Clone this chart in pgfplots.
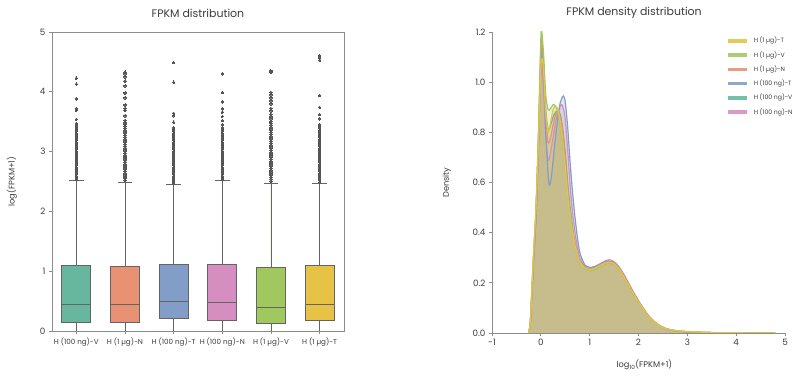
\documentclass[border=0pt]{standalone}
\usepackage{pgfplots}
\pgfplotsset{compat=1.18}
\usepackage{pgfplotstable}
\usepgfplotslibrary{statistics}
\usepackage{fontspec}
\setmainfont{Poppins}

\definecolor{cteal}{RGB}{102,183,157}
\definecolor{corange}{RGB}{232,145,115}
\definecolor{cblue}{RGB}{130,158,200}
\definecolor{cpink}{RGB}{214,142,192}
\definecolor{cgreen}{RGB}{160,200,95}
\definecolor{cyellow}{RGB}{230,195,70}
\definecolor{boxline}{RGB}{100,100,100}
\definecolor{outl}{RGB}{85,85,85}
\definecolor{axgray}{RGB}{140,140,140}
\definecolor{txt}{RGB}{60,60,60}

\pgfplotstableread{
x y
-0.25 0
-0.22 0.03
-0.2 0.09
-0.15 0.28
-0.1 0.46
-0.05 0.72
0 1.04
0.02 1.06
0.06 0.96
0.1 0.79
0.15 0.69
0.2 0.72
0.25 0.78
0.3 0.84
0.35 0.88
0.4 0.905
0.43 0.91
0.47 0.89
0.5 0.85
0.55 0.73
0.6 0.59
0.65 0.48
0.7 0.40
0.75 0.34
0.8 0.30
0.9 0.266
1.0 0.257
1.1 0.263
1.2 0.274
1.3 0.286
1.4 0.292
1.5 0.284
1.6 0.264
1.7 0.234
1.8 0.198
1.9 0.162
2.0 0.129
2.1 0.098
2.2 0.071
2.3 0.050
2.4 0.034
2.5 0.023
2.6 0.015
2.8 0.008
3.0 0.005
3.2 0.003
3.5 0.0015
4.0 0.0006
4.5 0.0002
4.8 0
}\tpink

\pgfplotstableread{
x y
-0.25 0
-0.22 0.03
-0.2 0.1
-0.15 0.3
-0.1 0.48
-0.05 0.76
0 1.11
0.02 1.13
0.06 1.04
0.1 0.89
0.15 0.81
0.2 0.83
0.25 0.86
0.3 0.88
0.35 0.885
0.4 0.87
0.45 0.81
0.5 0.72
0.55 0.60
0.6 0.50
0.65 0.42
0.7 0.36
0.75 0.315
0.8 0.285
0.9 0.262
1.0 0.255
1.1 0.26
1.2 0.27
1.3 0.28
1.4 0.284
1.5 0.277
1.6 0.257
1.7 0.227
1.8 0.192
1.9 0.157
2.0 0.125
2.1 0.095
2.2 0.069
2.3 0.048
2.4 0.033
2.5 0.022
2.6 0.015
2.8 0.008
3.0 0.005
3.2 0.003
3.5 0.0015
4.0 0.0005
4.5 0.0002
4.8 0
}\tteal

\pgfplotstableread{
x y
-0.25 0
-0.22 0.03
-0.2 0.09
-0.15 0.28
-0.1 0.46
-0.05 0.74
0 1.08
0.02 1.10
0.06 1.0
0.1 0.80
0.15 0.63
0.18 0.59
0.22 0.63
0.3 0.78
0.35 0.86
0.4 0.92
0.46 0.945
0.5 0.92
0.55 0.82
0.6 0.68
0.65 0.56
0.7 0.46
0.75 0.38
0.8 0.32
0.9 0.272
1.0 0.262
1.1 0.265
1.2 0.274
1.3 0.283
1.4 0.287
1.5 0.28
1.6 0.26
1.7 0.23
1.8 0.195
1.9 0.16
2.0 0.127
2.1 0.097
2.2 0.070
2.3 0.049
2.4 0.034
2.5 0.023
2.6 0.015
2.8 0.008
3.0 0.005
3.2 0.003
3.5 0.0015
4.0 0.0005
4.5 0.0002
4.8 0
}\tblue

\pgfplotstableread{
x y
-0.25 0
-0.22 0.03
-0.2 0.1
-0.15 0.3
-0.1 0.48
-0.05 0.77
0 1.14
0.02 1.16
0.06 1.06
0.1 0.88
0.15 0.76
0.2 0.78
0.25 0.83
0.3 0.87
0.35 0.88
0.4 0.86
0.45 0.80
0.5 0.70
0.55 0.58
0.6 0.48
0.65 0.41
0.7 0.355
0.75 0.312
0.8 0.284
0.9 0.262
1.0 0.255
1.1 0.26
1.2 0.27
1.3 0.28
1.4 0.285
1.5 0.278
1.6 0.258
1.7 0.228
1.8 0.193
1.9 0.158
2.0 0.126
2.1 0.096
2.2 0.07
2.3 0.049
2.4 0.033
2.5 0.022
2.6 0.015
2.8 0.008
3.0 0.005
3.2 0.003
3.5 0.0015
4.0 0.0005
4.5 0.0002
4.8 0
}\torange

\pgfplotstableread{
x y
-0.25 0
-0.22 0.03
-0.2 0.1
-0.15 0.31
-0.1 0.5
-0.05 0.8
0 1.17
0.02 1.20
0.06 1.10
0.1 0.95
0.15 0.89
0.2 0.895
0.25 0.91
0.3 0.905
0.35 0.88
0.4 0.82
0.45 0.74
0.5 0.66
0.55 0.56
0.6 0.48
0.65 0.41
0.7 0.35
0.75 0.31
0.8 0.28
0.9 0.255
1.0 0.248
1.1 0.252
1.2 0.263
1.3 0.273
1.4 0.278
1.5 0.272
1.6 0.252
1.7 0.222
1.8 0.187
1.9 0.153
2.0 0.121
2.1 0.092
2.2 0.067
2.3 0.047
2.4 0.032
2.5 0.021
2.6 0.014
2.8 0.008
3.0 0.005
3.2 0.003
3.5 0.0015
4.0 0.0005
4.5 0.0002
4.8 0
}\tgreen

\pgfplotstableread{
x y
-0.25 0
-0.22 0.04
-0.2 0.11
-0.15 0.32
-0.1 0.5
-0.05 0.76
0 1.06
0.03 1.09
0.06 1.03
0.1 0.88
0.15 0.80
0.2 0.84
0.25 0.89
0.3 0.905
0.35 0.89
0.4 0.84
0.45 0.76
0.5 0.66
0.55 0.55
0.6 0.46
0.65 0.40
0.7 0.35
0.75 0.31
0.8 0.282
0.9 0.259
1.0 0.252
1.1 0.257
1.2 0.267
1.3 0.277
1.4 0.281
1.5 0.275
1.6 0.255
1.7 0.225
1.8 0.19
1.9 0.155
2.0 0.124
2.1 0.094
2.2 0.068
2.3 0.048
2.4 0.033
2.5 0.022
2.6 0.015
2.8 0.009
3.0 0.006
3.2 0.004
3.5 0.002
4.0 0.0008
4.5 0.0003
4.8 0
}\tyellow

\pgfplotsset{
  common/.style={
    scale only axis,
    anchor=south west,
    axis line style={axgray, line width=0.8bp},
    tick style={axgray, line width=0.8bp},
    major tick length=3bp,
    tick align=outside,
    tick pos=left,
    ticklabel style={text=txt},
    /pgf/number format/assume math mode=true,
    title style={text=txt, font=\fontsize{11}{13}\selectfont, anchor=center, yshift=13bp},
    label style={text=txt, font=\fontsize{8.3}{10}\selectfont},
    yticklabel style={font=\fontsize{8.8}{10}\selectfont},
  },
  myout/.style={mark=*, mark size=1.3bp, mark options={fill=outl, draw=outl, line width=0pt}},
}

\begin{document}
\begin{tikzpicture}
\path[use as bounding box] (0,0) rectangle (800bp,377bp);

% ---------------- Box plot ----------------
\begin{axis}[common,
  at={(52bp,46bp)}, width=292bp, height=299bp,
  xmin=-0.5, xmax=5.5, ymin=0, ymax=5,
  xtick={0,1,2,3,4,5},
  xticklabels={H (100 ng)-V, H (1 µg)-N, H (100 ng)-T, H (100 ng)-N, H (1 µg)-V, H (1 µg)-T},
  xticklabel style={font=\fontsize{7.2}{8}\selectfont},
  ytick={0,1,2,3,4,5},
  title={FPKM distribution},
  ylabel={log(FPKM+1)},
  ylabel style={at={(axis description cs:-0.137,0.5)}, anchor=center},
  boxplot/draw direction=y,
]
\addplot[boxplot prepared={draw position=0, lower whisker=0, lower quartile=0.15, median=0.44, upper quartile=1.10, upper whisker=2.51, box extend=0.6, whisker extend=0.3},
  fill=cteal, draw=boxline, line width=0.9bp, myout]
coordinates {(0,4.23)(0,4.13)(0,3.88)(0,3.72)(0,3.69)(0,3.54)(0,3.47)(0,3.43)(0,3.40)(0,3.37)(0,3.34)(0,3.31)(0,3.28)(0,3.25)(0,3.22)(0,3.19)(0,3.16)(0,3.13)(0,3.10)(0,3.07)(0,3.04)(0,3.01)(0,2.98)(0,2.95)(0,2.92)(0,2.89)(0,2.86)(0,2.83)(0,2.80)(0,2.77)(0,2.74)(0,2.71)(0,2.68)(0,2.65)(0,2.62)(0,2.59)(0,2.56)(0,2.53)};
\addplot[boxplot prepared={draw position=1, lower whisker=0, lower quartile=0.14, median=0.45, upper quartile=1.08, upper whisker=2.49, box extend=0.6, whisker extend=0.3},
  fill=corange, draw=boxline, line width=0.9bp, myout]
coordinates {(0,4.33)(0,4.30)(0,4.25)(0,4.18)(0,4.10)(0,3.98)(0,3.90)(0,3.78)(0,3.72)(0,3.69)(0,3.60)(0,3.52)(0,3.48)(0,3.45)(0,3.42)(0,3.39)(0,3.36)(0,3.33)(0,3.30)(0,3.27)(0,3.24)(0,3.21)(0,3.18)(0,3.15)(0,3.12)(0,3.09)(0,3.06)(0,3.03)(0,3.00)(0,2.97)(0,2.94)(0,2.91)(0,2.88)(0,2.85)(0,2.82)(0,2.79)(0,2.76)(0,2.73)(0,2.70)(0,2.67)(0,2.64)(0,2.61)(0,2.58)(0,2.55)(0,2.52)};
\addplot[boxplot prepared={draw position=2, lower whisker=0, lower quartile=0.21, median=0.50, upper quartile=1.12, upper whisker=2.45, box extend=0.6, whisker extend=0.3},
  fill=cblue, draw=boxline, line width=0.9bp, myout]
coordinates {(0,4.49)(0,4.16)(0,3.64)(0,3.60)(0,3.49)(0,3.40)(0,3.37)(0,3.34)(0,3.31)(0,3.28)(0,3.25)(0,3.22)(0,3.19)(0,3.16)(0,3.13)(0,3.10)(0,3.07)(0,3.04)(0,3.01)(0,2.98)(0,2.95)(0,2.92)(0,2.89)(0,2.86)(0,2.83)(0,2.80)(0,2.77)(0,2.74)(0,2.71)(0,2.68)(0,2.65)(0,2.62)(0,2.59)(0,2.56)(0,2.53)(0,2.50)(0,2.47)};
\addplot[boxplot prepared={draw position=3, lower whisker=0, lower quartile=0.18, median=0.47, upper quartile=1.12, upper whisker=2.51, box extend=0.6, whisker extend=0.3},
  fill=cpink, draw=boxline, line width=0.9bp, myout]
coordinates {(0,4.30)(0,3.99)(0,3.83)(0,3.72)(0,3.66)(0,3.59)(0,3.52)(0,3.45)(0,3.40)(0,3.37)(0,3.34)(0,3.31)(0,3.28)(0,3.25)(0,3.22)(0,3.19)(0,3.16)(0,3.13)(0,3.10)(0,3.07)(0,3.04)(0,3.01)(0,2.98)(0,2.95)(0,2.92)(0,2.89)(0,2.86)(0,2.83)(0,2.80)(0,2.77)(0,2.74)(0,2.71)(0,2.68)(0,2.65)(0,2.62)(0,2.59)(0,2.56)(0,2.53)};
\addplot[boxplot prepared={draw position=4, lower whisker=0, lower quartile=0.13, median=0.40, upper quartile=1.07, upper whisker=2.47, box extend=0.6, whisker extend=0.3},
  fill=cgreen, draw=boxline, line width=0.9bp, myout]
coordinates {(0,4.35)(0,4.33)(0,3.99)(0,3.95)(0,3.90)(0,3.85)(0,3.80)(0,3.72)(0,3.68)(0,3.62)(0,3.58)(0,3.55)(0,3.50)(0,3.47)(0,3.44)(0,3.41)(0,3.38)(0,3.35)(0,3.32)(0,3.29)(0,3.26)(0,3.23)(0,3.20)(0,3.17)(0,3.14)(0,3.11)(0,3.08)(0,3.05)(0,3.02)(0,2.99)(0,2.96)(0,2.93)(0,2.90)(0,2.87)(0,2.84)(0,2.81)(0,2.78)(0,2.75)(0,2.72)(0,2.69)(0,2.66)(0,2.63)(0,2.60)(0,2.57)(0,2.54)(0,2.50)};
\addplot[boxplot prepared={draw position=5, lower whisker=0, lower quartile=0.17, median=0.45, upper quartile=1.09, upper whisker=2.47, box extend=0.6, whisker extend=0.3},
  fill=cyellow, draw=boxline, line width=0.9bp, myout]
coordinates {(0,4.60)(0,4.57)(0,4.53)(0,3.94)(0,3.74)(0,3.62)(0,3.55)(0,3.45)(0,3.42)(0,3.39)(0,3.36)(0,3.33)(0,3.30)(0,3.27)(0,3.24)(0,3.21)(0,3.18)(0,3.15)(0,3.12)(0,3.09)(0,3.06)(0,3.03)(0,3.00)(0,2.97)(0,2.94)(0,2.91)(0,2.88)(0,2.85)(0,2.82)(0,2.79)(0,2.76)(0,2.73)(0,2.70)(0,2.67)(0,2.64)(0,2.61)(0,2.58)(0,2.55)(0,2.52)(0,2.49)};
\end{axis}

% ---------------- Density plot ----------------
\begin{axis}[common,
  at={(492bp,44bp)}, width=293bp, height=301bp,
  xmin=-1, xmax=5, ymin=0, ymax=1.2,
  axis x line*=bottom, axis y line*=left,
  xtick={-1,0,1,2,3,4,5},
  ytick={0,0.2,0.4,0.6,0.8,1.0,1.2},
  yticklabel style={/pgf/number format/.cd, fixed, fixed zerofill, precision=1},
  xticklabel style={font=\fontsize{8.8}{10}\selectfont},
  title={FPKM density distribution},
  title style={at={(axis description cs:0.485,1)}},
  ylabel={Density},
  ylabel style={at={(axis description cs:-0.154,0.5)}, anchor=center},
  xlabel={log\textsubscript{10}(FPKM+1)},
  xlabel style={at={(axis description cs:0.52,-0.106)}, anchor=center},
  reverse legend,
  legend cell align=left,
  legend style={draw=none, fill=none, at={(rel axis cs:0.799,0.99)}, anchor=north west,
    font=\fontsize{6.2}{7}\selectfont, text=txt, row sep=3bp, inner sep=0pt,
    /tikz/every odd column/.append style={column sep=3bp}},
  legend image code/.code={\draw[#1, line width=3.5bp, draw opacity=0.9] (0bp,0bp) -- (19bp,0bp);},
]
\addplot[fill=cpink, fill opacity=0.27, draw=none, smooth, forget plot] table {\tpink} \closedcycle;
\addplot[fill=cteal, fill opacity=0.25, draw=none, smooth, forget plot] table {\tteal} \closedcycle;
\addplot[fill=cblue, fill opacity=0.25, draw=none, smooth, forget plot] table {\tblue} \closedcycle;
\addplot[fill=corange, fill opacity=0.28, draw=none, smooth, forget plot] table {\torange} \closedcycle;
\addplot[fill=cgreen, fill opacity=0.23, draw=none, smooth, forget plot] table {\tgreen} \closedcycle;
\addplot[fill=cyellow, fill opacity=0.25, draw=none, smooth, forget plot] table {\tyellow} \closedcycle;

\addplot[draw=cpink, line width=1.2bp, smooth] table {\tpink};
\addlegendentry{H (100 ng)-N}
\addplot[draw=cteal, line width=1.2bp, smooth] table {\tteal};
\addlegendentry{H (100 ng)-V}
\addplot[draw=cblue, line width=1.2bp, smooth] table {\tblue};
\addlegendentry{H (100 ng)-T}
\addplot[draw=corange, line width=1.2bp, smooth] table {\torange};
\addlegendentry{H (1 µg)-N}
\addplot[draw=cgreen, line width=1.2bp, smooth] table {\tgreen};
\addlegendentry{H (1 µg)-V}
\addplot[draw=cyellow, line width=1.2bp, smooth] table {\tyellow};
\addlegendentry{H (1 µg)-T}
\end{axis}
\end{tikzpicture}
\end{document}
